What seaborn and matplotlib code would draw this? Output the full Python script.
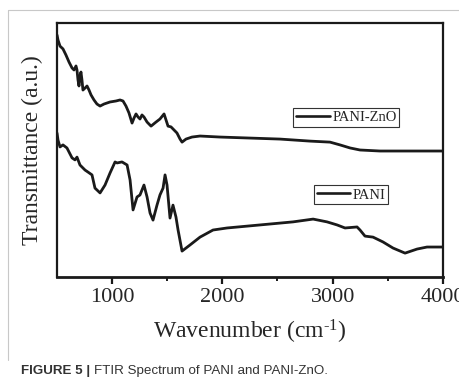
import numpy as np
import pandas as pd
import matplotlib
matplotlib.use("Agg")
import matplotlib.pyplot as plt
from matplotlib.lines import Line2D
import seaborn as sns

# ---- data ----
zno_wn = [502, 511, 529, 556, 583, 611, 638, 656, 674, 683, 692, 701, 710, 719, 728, 737,
          756, 774, 792, 810, 837, 864, 892, 928, 982, 1037, 1073, 1100, 1127, 1154, 1182,
          1200, 1218, 1236, 1254, 1272, 1290, 1318, 1354, 1399, 1435, 1472, 1490, 1508,
          1535, 1562, 1589, 1617, 1635, 1671, 1725, 1798, 1979, 2251, 2523, 2795, 2976,
          3067, 3158, 3248, 3429, 3701, 4000]
zno_t = [95.3, 93.3, 90.9, 89.8, 87.4, 84.6, 82.3, 81.5, 83.1, 81.5, 77.6, 75.2, 79.1, 80.7,
         77.6, 73.6, 74.4, 75.2, 73.6, 71.7, 69.7, 68.1, 67.3, 68.1, 68.9, 69.3, 69.7, 69.3,
         67.3, 64.6, 60.6, 62.6, 64.2, 63.0, 62.2, 63.8, 63.0, 61.0, 59.4, 61.0, 62.2, 64.2,
         61.8, 59.4, 59.1, 57.9, 56.7, 54.3, 53.1, 54.3, 55.1, 55.5, 55.1, 54.7, 54.3, 53.5,
         53.1, 52.0, 50.8, 50.0, 49.6, 49.6, 49.6]

pani_wn = [502, 511, 529, 556, 592, 638, 665, 683, 710, 756, 783, 819, 846, 892, 937, 982,
           1028, 1046, 1091, 1137, 1164, 1191, 1227, 1254, 1290, 1318, 1345, 1372, 1408,
           1435, 1463, 1481, 1499, 1526, 1553, 1580, 1599, 1635, 1707, 1798, 1916, 2043,
           2342, 2641, 2823, 2949, 3040, 3112, 3221, 3248, 3293, 3366, 3456, 3547, 3656,
           3765, 3855, 4000]
pani_t = [56.7, 53.9, 51.2, 52.0, 50.8, 46.9, 46.1, 47.2, 44.1, 42.1, 41.3, 40.2, 35.0, 33.1,
          36.2, 40.9, 45.3, 44.9, 45.3, 44.1, 38.2, 26.4, 31.5, 32.3, 36.2, 31.5, 25.2, 22.4,
          28.3, 32.3, 35.0, 40.2, 36.2, 23.2, 28.3, 23.6, 18.5, 10.2, 12.6, 15.7, 18.5, 19.3,
          20.5, 21.7, 22.8, 21.7, 20.5, 19.3, 19.7, 18.5, 16.1, 15.7, 13.8, 11.4, 9.4, 11.0,
          11.8, 11.8]

series_names = ["PANI-ZnO", "PANI"]
x_ticks = [1000, 2000, 3000, 4000]
x_minor = [1500, 2500, 3500]

df_zno = pd.DataFrame({"wn": zno_wn, "t": zno_t})
df_pani = pd.DataFrame({"wn": pani_wn, "t": pani_t})

sns.set_style("ticks")
plt.rcParams["font.family"] = ["Liberation Serif", "DejaVu Serif"]
plt.rcParams["mathtext.fontset"] = "custom"
plt.rcParams["mathtext.rm"] = "Liberation Serif"
plt.rcParams["mathtext.it"] = "Liberation Serif:italic"

fig = plt.figure(figsize=(4.6, 3.83), dpi=100)
ax = fig.add_axes([56.8 / 460, 1 - 277 / 383, (443 - 56.8) / 460, (277 - 23) / 383])

sns.lineplot(data=df_zno, x="wn", y="t", ax=ax, color="#1a1a1a", lw=2.0,
             estimator=None, sort=False)
sns.lineplot(data=df_pani, x="wn", y="t", ax=ax, color="#1a1a1a", lw=2.0,
             estimator=None, sort=False)

ax.set_xlim(500, 4000)
ax.set_ylim(0, 100)
ax.set_xticks(x_ticks)
ax.set_xticks(x_minor, minor=True)
ax.set_yticks([])
ax.tick_params(axis="x", which="major", length=5, width=1.6, direction="out",
               labelsize=16, pad=3, color="#1a1a1a")
ax.tick_params(axis="x", which="minor", length=3, width=1.4, direction="out",
               color="#1a1a1a")
for s in ax.spines.values():
    s.set_linewidth(1.6)
    s.set_color("#1a1a1a")
ax.spines["bottom"].set_linewidth(2.0)

ax.set_xlabel(r"Wavenumber (cm$^{\mathrm{\text{-}1}}$)", fontsize=17, labelpad=8)
ax.set_ylabel("Transmittance (a.u.)", fontsize=17, labelpad=10)

line_h = Line2D([], [], color="#1a1a1a", lw=1.9)
leg_kw = dict(frameon=True, fancybox=False, edgecolor="#333333", framealpha=1,
              handlelength=2.3, handletextpad=0.15, borderpad=0.2, borderaxespad=0,
              prop={"family": "Liberation Serif", "size": 10.5})
leg1 = ax.legend([line_h], [series_names[0]], loc="center",
                 bbox_to_anchor=(0.75, 0.628), **leg_kw)
leg1.get_frame().set_linewidth(0.8)
ax.add_artist(leg1)
leg2 = ax.legend([line_h], [series_names[1]], loc="center",
                 bbox_to_anchor=(0.762, 0.323), **leg_kw)
leg2.get_frame().set_linewidth(0.8)

# page frame lines
fig.add_artist(Line2D([8 / 460, 1.0], [1 - 10 / 383, 1 - 10 / 383], color="#c8c8c8", lw=0.8))
fig.add_artist(Line2D([8 / 460, 8 / 460], [1 - 10 / 383, 1 - 360 / 383], color="#c8c8c8", lw=0.8))

# caption
t1 = fig.text(21 / 460, 1 - 371 / 383, "FIGURE 5 | ", fontsize=9.6, fontweight="bold",
              family="Liberation Sans", color="#333333", va="center", ha="left")
fig.canvas.draw()
bb = t1.get_window_extent()
x_next = bb.x1 / fig.bbox.width
fig.text(x_next, 1 - 371 / 383, "FTIR Spectrum of PANI and PANI-ZnO.", fontsize=9.6,
         family="Liberation Sans", color="#333333", va="center", ha="left")

fig.savefig("out.png", dpi=100)
